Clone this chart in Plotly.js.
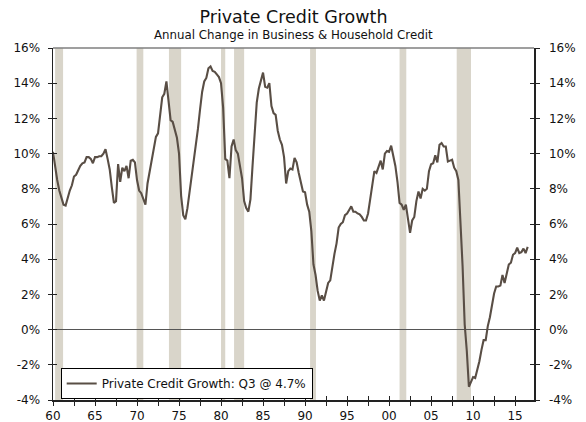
<!DOCTYPE html>
<html>
<head>
<meta charset="utf-8">
<script src="https://cdn.plot.ly/plotly-3.0.1.min.js"></script>
<style>
  html, body { margin: 0; padding: 0; background: #fff; }
  #chart { width: 586px; height: 422px; }
</style>
</head>
<body>
<div id="chart"></div>
<script>
// Quarterly series, 1960 Q1 through 2016 Q3 (year-over-year % change)
const startYear = 1960;
const creditGrowth = [
  10.1, 9.2, 8.5, 7.9,      // 1960
  7.5, 7.1, 7.05, 7.5,      // 1961
  7.9, 8.2, 8.7, 8.8,       // 1962
  9.1, 9.3, 9.45, 9.5,      // 1963
  9.8, 9.8, 9.7, 9.45,      // 1964
  9.8, 9.8, 9.85, 9.85,     // 1965
  10.0, 10.25, 9.7, 9.1,    // 1966
  8.1, 7.2, 7.3, 9.4,       // 1967
  8.4, 9.2, 9.0, 9.3,       // 1968
  8.6, 9.6, 9.65, 9.5,      // 1969
  8.5, 7.9, 7.75, 7.4,      // 1970
  7.1, 8.3, 9.0, 9.6,       // 1971
  10.3, 10.95, 11.15, 12.2, // 1972
  13.2, 13.4, 14.1, 13.0,   // 1973
  11.9, 11.8, 11.3, 10.9,   // 1974
  10.0, 7.6, 6.5, 6.27,     // 1975
  6.9, 7.8, 8.5, 9.3,       // 1976
  10.3, 11.4, 12.5, 13.5,   // 1977
  14.1, 14.3, 14.85, 14.95, // 1978
  14.7, 14.65, 14.5, 14.35, // 1979
  14.0, 12.6, 9.7, 9.6,     // 1980
  8.6, 10.4, 10.8, 10.2,    // 1981
  10.0, 9.4, 8.6, 7.3,      // 1982
  6.9, 6.7, 7.4, 9.3,       // 1983
  11.1, 12.9, 13.7, 14.2,   // 1984
  14.6, 13.8, 13.75, 14.0,  // 1985
  12.7, 12.3, 12.2, 11.3,   // 1986
  10.8, 10.5, 9.8, 8.3,     // 1987
  9.0, 9.15, 9.1, 9.75,     // 1988
  9.5, 8.9, 8.3, 7.85,      // 1989
  7.8, 7.1, 6.7, 5.6,       // 1990
  3.7, 3.1, 2.2, 1.65,      // 1991
  1.95, 1.65, 2.15, 2.65,   // 1992
  2.8, 3.6, 4.3, 4.9,       // 1993
  5.8, 6.0, 6.1, 6.5,       // 1994
  6.6, 6.8, 7.0, 6.7,       // 1995
  6.7, 6.6, 6.55, 6.4,      // 1996
  6.2, 6.2, 6.6, 7.4,       // 1997
  8.2, 9.0, 8.9, 9.2,       // 1998
  9.6, 9.1, 10.0, 10.15,    // 1999
  10.1, 10.45, 9.8, 9.3,    // 2000
  8.4, 7.2, 7.1, 6.8,       // 2001
  7.1, 6.4, 5.5, 6.2,       // 2002
  6.4, 7.3, 7.85, 7.45,     // 2003
  8.0, 7.9, 8.0, 9.0,       // 2004
  9.4, 9.45, 9.9, 9.5,      // 2005
  10.5, 10.6, 10.4, 10.4,   // 2006
  9.55, 9.6, 9.65, 9.2,     // 2007
  9.0, 8.5, 6.2, 3.6,       // 2008
  0.3, -1.2, -3.25, -3.0,   // 2009
  -2.7, -2.75, -2.3, -1.8,  // 2010
  -1.15, -0.6, -0.6, 0.2,   // 2011
  0.7, 1.4, 2.05, 2.45,     // 2012
  2.45, 2.5, 3.1, 2.65,     // 2013
  3.2, 3.7, 3.8, 4.25,      // 2014
  4.35, 4.65, 4.35, 4.4,    // 2015
  4.6, 4.35, 4.7            // 2016
];

// Recession periods (decimal years)
const recessionStart = [1960.25, 1969.95, 1973.8, 1980.0, 1981.55, 1990.6, 2001.25, 2008.05];
const recessionEnd   = [1961.2,  1970.75, 1975.25, 1980.5, 1982.75, 1991.3, 2002.05, 2009.75];

// Axis ticks and labels
const xTickVals = [1960, 1962.5, 1965, 1967.5, 1970, 1972.5, 1975, 1977.5, 1980, 1982.5, 1985, 1987.5,
                   1990, 1992.5, 1995, 1997.5, 2000, 2002.5, 2005, 2007.5, 2010, 2012.5, 2015];
const xTickText = ['60', '', '65', '', '70', '', '75', '', '80', '', '85', '',
                   '90', '', '95', '', '00', '', '05', '', '10', '', '15'];
const yTickVals = [-4, -2, 0, 2, 4, 6, 8, 10, 12, 14, 16];
const yTickText = ['-4%', '-2%', '0%', '2%', '4%', '6%', '8%', '10%', '12%', '14%', '16%'];

const seriesName = 'Private Credit Growth: Q3 @ 4.7%';
const chartTitle = 'Private Credit Growth';
const chartSubtitle = 'Annual Change in Business &amp; Household Credit';

const xDates = creditGrowth.map((_, i) => startYear + i / 4);

const FONT = 'DejaVu Sans, Verdana, sans-serif';
const LINE_COLOR = '#594e45';
const BAR_COLOR = '#d9d5ca';
const AXIS_COLOR = '#222';
const TEXT_COLOR = '#111';
const xRange = [1960, 2017.25];
const yRange = [-4, 16];

const shapes = recessionStart.map((s, i) => ({
  type: 'rect', xref: 'x', yref: 'paper',
  x0: s, x1: recessionEnd[i], y0: 0, y1: 1,
  fillcolor: BAR_COLOR, line: { width: 0 }, layer: 'below'
}));
shapes.push({
  type: 'line', xref: 'paper', yref: 'paper', x0: 0, x1: 1, y0: 1, y1: 1,
  line: { color: '#7f7f7f', width: 1.5 }
});

// Helper (invisible) traces so the overlay tick axes are drawn
function ghost(xa, ya) {
  return {
    x: xDates, y: creditGrowth, xaxis: xa, yaxis: ya, type: 'scatter', mode: 'lines',
    line: { width: 0, color: 'rgba(0,0,0,0)' }, opacity: 0, showlegend: false, hoverinfo: 'skip'
  };
}

const traces = [
  {
    x: xDates, y: creditGrowth, type: 'scatter', mode: 'lines',
    name: seriesName,
    line: { color: LINE_COLOR, width: 2.1 },
    hoverinfo: 'x+y'
  },
  ghost('x2', 'y'),
  ghost('x', 'y2'),
  ghost('x', 'y3'),
  ghost('x', 'y4')
];

const tickFont = { family: FONT, size: 12, color: TEXT_COLOR };

const baseX = {
  range: xRange, showgrid: false, zeroline: false, autorange: false,
  tickmode: 'array', tickvals: xTickVals, ticklen: 4, tickwidth: 1,
  tickcolor: AXIS_COLOR, linecolor: AXIS_COLOR, linewidth: 1.5, showline: true,
  fixedrange: true
};
const baseY = {
  range: yRange, showgrid: false, autorange: false,
  tickmode: 'array', tickvals: yTickVals, ticklen: 4, tickwidth: 1,
  tickcolor: AXIS_COLOR, linecolor: AXIS_COLOR, linewidth: 1.5, showline: true,
  fixedrange: true
};

const layout = {
  width: 586, height: 422,
  margin: { l: 53, r: 52, t: 48, b: 22, pad: 0 },
  paper_bgcolor: '#fff', plot_bgcolor: '#fff',
  font: { family: FONT, size: 12, color: TEXT_COLOR },
  title: {
    text: chartTitle,
    font: { family: FONT, size: 17.5, color: TEXT_COLOR },
    x: 0.5, xanchor: 'center', xref: 'paper',
    y: 1 - 17 / 422, yanchor: 'middle', yref: 'container'
  },
  annotations: [{
    text: chartSubtitle,
    xref: 'paper', yref: 'paper', x: 0.5, y: 1 + 13 / 352,
    xanchor: 'center', yanchor: 'middle', showarrow: false,
    font: { family: FONT, size: 11.8, color: TEXT_COLOR }
  }],
  showlegend: true,
  legend: {
    x: 0.016, y: 0.091, xanchor: 'left', yanchor: 'top',
    bgcolor: '#fff', bordercolor: '#000', borderwidth: 1,
    font: { family: FONT, size: 12, color: TEXT_COLOR },
    itemwidth: 30, tracegroupgap: 0
  },
  xaxis: Object.assign({}, baseX, {
    ticks: 'outside', ticktext: xTickText, showticklabels: true,
    tickfont: tickFont
  }),
  xaxis2: Object.assign({}, baseX, {
    overlaying: 'x', side: 'bottom', anchor: 'y', ticks: 'inside',
    showticklabels: false, ticktext: xTickText
  }),
  yaxis: Object.assign({}, baseY, {
    ticks: 'outside', ticktext: yTickText, side: 'left',
    zeroline: true, zerolinecolor: '#555', zerolinewidth: 1,
    tickfont: tickFont,
    ticklabelstandoff: 5
  }),
  yaxis2: Object.assign({}, baseY, {
    overlaying: 'y', side: 'left', anchor: 'x', ticks: 'inside', zeroline: false,
    showticklabels: false, ticktext: yTickText
  }),
  yaxis3: Object.assign({}, baseY, {
    overlaying: 'y', side: 'right', anchor: 'x', ticks: 'outside', zeroline: false,
    ticktext: yTickText, tickfont: tickFont,
    ticklabelstandoff: 7
  }),
  yaxis4: Object.assign({}, baseY, {
    overlaying: 'y', side: 'right', anchor: 'x', ticks: 'inside', zeroline: false,
    showticklabels: false, ticktext: yTickText
  }),
  shapes: shapes
};

Plotly.newPlot('chart', traces, layout, { displayModeBar: false, staticPlot: true });
</script>
</body>
</html>
